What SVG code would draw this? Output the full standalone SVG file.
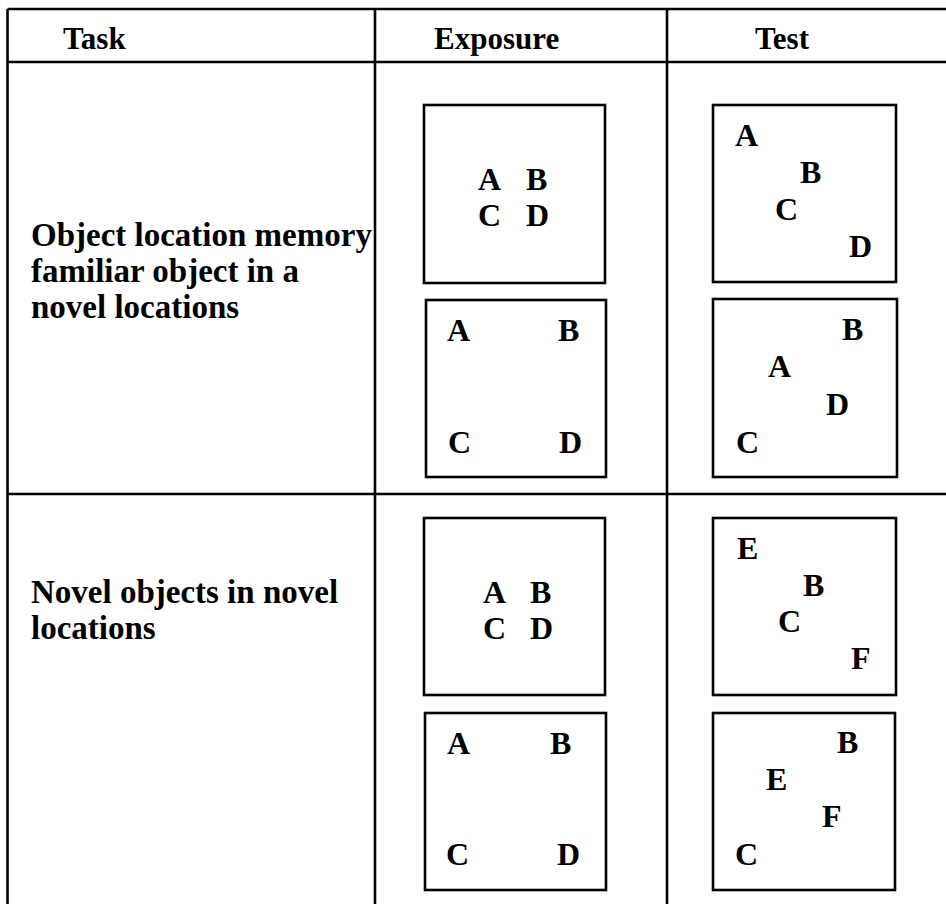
<svg xmlns="http://www.w3.org/2000/svg" width="946" height="904" viewBox="0 0 946 904">
<style>
.grid{stroke:#000;stroke-width:2.6;fill:none}
.box{stroke:#000;stroke-width:2.6;fill:none}
.h{font-family:"Liberation Serif","Times New Roman",serif;font-weight:bold;font-size:31px;fill:#000}
.t{font-family:"Liberation Serif","Times New Roman",serif;font-weight:bold;font-size:33px;fill:#000}
.l{font-family:"Liberation Serif","Times New Roman",serif;font-weight:bold;font-size:32px;fill:#000}
</style>
<rect width="946" height="904" fill="#fff"/>
<g id="table">
<line class="grid" x1="7.5" y1="9" x2="946" y2="9"/>
<line class="grid" x1="7.5" y1="62" x2="946" y2="62"/>
<line class="grid" x1="7.5" y1="494" x2="946" y2="494"/>
<line class="grid" x1="7.5" y1="9" x2="7.5" y2="904"/>
<line class="grid" x1="375" y1="9" x2="375" y2="904"/>
<line class="grid" x1="667" y1="9" x2="667" y2="904"/>
</g>
<g id="headers">
<text class="h" x="63" y="49">Task</text>
<text class="h" x="434" y="49">Exposure</text>
<text class="h" x="755" y="49">Test</text>
</g>
<g id="task1">
<text class="t" x="31" y="246">Object location memory</text>
<text class="t" x="31" y="282">familiar object in a</text>
<text class="t" x="31" y="318">novel locations</text>
</g>
<g id="task2">
<text class="t" x="31" y="603">Novel objects in novel</text>
<text class="t" x="31" y="639">locations</text>
</g>
<g id="r1-exp1">
<rect class="box" x="424" y="105" width="181" height="178"/>
<text class="l" x="478" y="190">A</text><text class="l" x="526" y="190">B</text>
<text class="l" x="478" y="226">C</text><text class="l" x="526" y="226">D</text>
</g>
<g id="r1-exp2">
<rect class="box" x="426" y="300" width="180" height="177"/>
<text class="l" x="447" y="341">A</text><text class="l" x="558" y="341">B</text>
<text class="l" x="448" y="453">C</text><text class="l" x="559" y="453">D</text>
</g>
<g id="r1-test1">
<rect class="box" x="713" y="105" width="183" height="177"/>
<text class="l" x="735" y="146">A</text><text class="l" x="800" y="183">B</text>
<text class="l" x="775" y="220">C</text><text class="l" x="849" y="257">D</text>
</g>
<g id="r1-test2">
<rect class="box" x="713" y="299" width="184" height="178"/>
<text class="l" x="842" y="340">B</text><text class="l" x="768" y="377">A</text>
<text class="l" x="826" y="415">D</text><text class="l" x="736" y="453">C</text>
</g>
<g id="r2-exp1">
<rect class="box" x="424" y="518" width="181" height="177"/>
<text class="l" x="483" y="603">A</text><text class="l" x="530" y="603">B</text>
<text class="l" x="483" y="639">C</text><text class="l" x="530" y="639">D</text>
</g>
<g id="r2-exp2">
<rect class="box" x="425" y="713" width="181" height="177"/>
<text class="l" x="447" y="754">A</text><text class="l" x="550" y="754">B</text>
<text class="l" x="446" y="865">C</text><text class="l" x="557" y="865">D</text>
</g>
<g id="r2-test1">
<rect class="box" x="713" y="518" width="183" height="177"/>
<text class="l" x="737" y="559">E</text><text class="l" x="803" y="596">B</text>
<text class="l" x="778" y="632">C</text><text class="l" x="851" y="669">F</text>
</g>
<g id="r2-test2">
<rect class="box" x="713" y="713" width="182" height="177"/>
<text class="l" x="837" y="753">B</text><text class="l" x="766" y="790">E</text>
<text class="l" x="822" y="827">F</text><text class="l" x="735" y="865">C</text>
</g>
</svg>
